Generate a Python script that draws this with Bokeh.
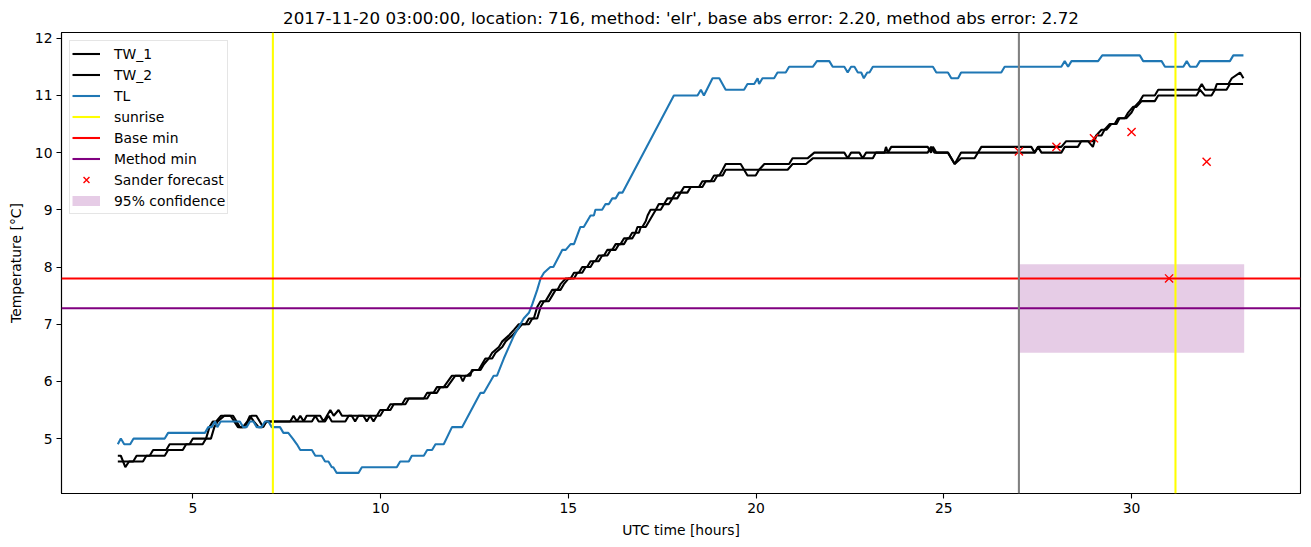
from bokeh.plotting import figure
from bokeh.models import Range1d, Span, Legend, LegendItem, FixedTicker
from bokeh.embed import file_html
from bokeh.resources import INLINE

TITLE = "2017-11-20 03:00:00, location: 716, method: 'elr', base abs error: 2.20, method abs error: 2.72"

tw1_t = [3.00, 3.08, 3.20, 3.30, 3.41, 3.50, 3.85, 3.94, 4.29, 4.38, 4.91, 5.00, 5.35, 5.44, 5.53, 5.62, 5.75,
         6.07, 6.25, 6.40, 6.56, 6.69, 6.87, 6.96, 7.59, 7.68, 7.77, 7.86, 7.95, 8.03, 8.39, 8.48, 8.57, 8.66,
         8.75, 8.88, 8.97, 9.54, 9.63, 9.72, 9.90, 9.99, 10.17, 10.26, 10.57, 10.66, 11.15, 11.24, 11.41, 11.50,
         11.68, 11.90, 12.12, 12.19, 12.26, 12.39, 12.43, 12.61, 12.70, 12.79, 12.88, 12.97, 13.15, 13.24, 13.41,
         13.55, 13.68, 13.86, 13.95, 14.08, 14.17, 14.26, 14.39, 14.48, 14.57, 14.71, 14.79, 14.93, 15.06, 15.15,
         15.28, 15.37, 15.50, 15.59, 15.72, 15.81, 15.95, 16.04, 16.17, 16.26, 16.39, 16.48, 16.61, 16.70, 16.79,
         16.84, 16.97, 17.06, 17.11, 17.19, 17.33, 17.41, 17.55, 17.64, 17.77, 17.86, 17.99, 18.08, 18.48, 18.57,
         18.79, 18.88, 19.02, 19.11, 19.19, 19.59, 19.68, 19.77, 19.99, 20.08, 20.22, 20.88, 20.97, 21.37, 21.55,
         22.35, 22.44, 22.53, 22.75, 22.84, 22.93, 23.42, 23.46, 23.51, 23.60, 24.57, 24.66, 24.71, 24.80, 25.11,
         25.29, 25.46, 25.82, 26.00, 27.33, 27.42, 27.51, 28.13, 28.26, 28.84, 28.97, 29.06, 29.20, 29.28, 29.42,
         29.55, 29.64, 29.77, 29.86, 30.00, 30.08, 30.22, 30.31, 30.62, 30.71, 31.78, 31.87, 31.96, 32.22, 32.27,
         32.58, 32.67, 32.89, 32.98]
tw1_v = [4.7, 4.7, 4.5, 4.6, 4.6, 4.7, 4.7, 4.8, 4.8, 4.9, 4.9, 5.0, 5.0, 5.2, 5.3, 5.3, 5.4,
         5.4, 5.2, 5.2, 5.4, 5.4, 5.2, 5.3, 5.3, 5.4, 5.3, 5.4, 5.3, 5.4, 5.4, 5.3, 5.4, 5.5,
         5.4, 5.5, 5.4, 5.4, 5.3, 5.4, 5.4, 5.5, 5.5, 5.6, 5.6, 5.7, 5.7, 5.8, 5.8, 5.9,
         5.9, 6.1, 6.1, 6.0, 6.1, 6.1, 6.2, 6.2, 6.3, 6.4, 6.4, 6.5, 6.6, 6.7, 6.8,
         6.9, 7.0, 7.0, 7.1, 7.1, 7.3, 7.4, 7.4, 7.5, 7.6, 7.6, 7.7, 7.8, 7.8, 7.9,
         7.9, 8.0, 8.0, 8.1, 8.1, 8.2, 8.2, 8.3, 8.3, 8.4, 8.4, 8.5, 8.5, 8.6, 8.6,
         8.7, 8.7, 8.8, 8.9, 9.0, 9.0, 9.1, 9.1, 9.2, 9.2, 9.3, 9.3, 9.4, 9.4, 9.5,
         9.5, 9.6, 9.6, 9.7, 9.8, 9.8, 9.7, 9.6, 9.6, 9.7, 9.8, 9.8, 9.9, 9.9, 10.0,
         10.0, 9.9, 10.0, 10.0, 9.9, 10.0, 10.0, 10.1, 10.0, 10.1, 10.1, 10.0, 10.1, 10.0, 10.0,
         9.8, 9.9, 9.9, 10.1, 10.1, 10.0, 10.1, 10.1, 10.2, 10.2, 10.1, 10.3, 10.3, 10.4, 10.5,
         10.5, 10.6, 10.6, 10.6, 10.7, 10.8, 10.9, 11.0, 11.0, 11.1, 11.1, 11.2, 11.1, 11.1, 11.2,
         11.2, 11.3, 11.4, 11.3]

tw2_t = [3.00, 3.17, 3.67, 3.76, 4.25, 4.34, 4.73, 4.82, 5.26, 5.35, 5.48, 5.57, 5.66, 5.84, 6.00, 6.10,
         6.20, 6.33, 6.45, 6.52, 6.62, 6.75, 6.85, 6.96, 8.17, 8.26, 8.35, 8.52, 8.61, 8.70, 9.06, 9.15, 9.23,
         9.32, 9.41, 9.72, 9.81, 9.90, 9.99, 10.08, 10.26, 10.35, 10.66, 10.75, 11.24, 11.33, 11.50, 11.59,
         11.77, 11.99, 12.30, 12.48, 12.66, 12.75, 12.88, 12.97, 13.06, 13.24, 13.33, 13.50, 13.64, 13.77, 13.95,
         14.04, 14.17, 14.26, 14.35, 14.48, 14.57, 14.66, 14.79, 14.88, 15.01, 15.15, 15.24, 15.37, 15.46,
         15.59, 15.68, 15.81, 15.90, 16.04, 16.13, 16.26, 16.35, 16.48, 16.57, 16.70, 16.79, 16.88, 16.93,
         17.06, 17.15, 17.24, 17.33, 17.46, 17.55, 17.68, 17.77, 17.90, 17.99, 18.17, 18.26, 18.57, 18.66,
         18.88, 18.97, 19.11, 19.19, 20.84, 20.97, 21.33, 21.51, 23.11, 23.19, 24.57, 24.66, 24.75, 25.11,
         25.29, 25.46, 27.42, 27.51, 27.60, 28.13, 28.22, 28.57, 28.66, 28.97, 29.06, 29.20, 29.33, 29.46,
         29.60, 29.68, 29.82, 29.91, 30.04, 30.13, 30.27, 30.62, 30.71, 31.73, 31.82, 31.95, 32.13, 32.22,
         32.53, 32.62, 32.97]
tw2_v = [4.6, 4.6, 4.6, 4.7, 4.7, 4.8, 4.8, 4.9, 4.9, 5.0, 5.0, 5.2, 5.3, 5.4, 5.4, 5.3,
         5.2, 5.2, 5.3, 5.4, 5.3, 5.2, 5.2, 5.3, 5.3, 5.4, 5.3, 5.3, 5.4, 5.3, 5.3, 5.4, 5.4,
         5.3, 5.4, 5.4, 5.3, 5.4, 5.4, 5.5, 5.5, 5.6, 5.6, 5.7, 5.7, 5.8, 5.8, 5.9,
         5.9, 6.1, 6.1, 6.2, 6.2, 6.3, 6.4, 6.4, 6.5, 6.6, 6.7, 6.8, 6.9, 7.0, 7.0,
         7.1, 7.1, 7.3, 7.4, 7.4, 7.5, 7.6, 7.6, 7.7, 7.8, 7.8, 7.9, 7.9, 8.0,
         8.0, 8.1, 8.1, 8.2, 8.2, 8.3, 8.3, 8.4, 8.4, 8.5, 8.5, 8.6, 8.6, 8.7,
         8.7, 8.8, 8.9, 9.0, 9.0, 9.1, 9.1, 9.2, 9.2, 9.3, 9.3, 9.4, 9.4, 9.5,
         9.5, 9.6, 9.6, 9.7, 9.7, 9.8, 9.8, 9.9, 9.9, 10.0, 10.0, 10.1, 10.0, 10.0,
         9.8, 10.0, 10.0, 10.1, 10.0, 10.0, 10.1, 10.1, 10.2, 10.2, 10.3, 10.4, 10.4, 10.5,
         10.5, 10.6, 10.6, 10.7, 10.8, 10.8, 10.9, 10.9, 11.0, 11.0, 11.1, 11.0, 11.0, 11.1,
         11.1, 11.2, 11.2]

tl_t = [3.00, 3.08, 3.17, 3.33, 3.42, 4.25, 4.34, 5.32, 5.41, 5.50, 5.59, 5.65, 5.74, 6.25, 6.34, 6.43,
        6.52, 6.61, 6.70, 6.83, 6.92, 7.01, 7.10, 7.32, 7.41, 7.54, 7.66, 7.77, 7.86, 8.17, 8.26, 8.43, 8.52,
        8.61, 8.70, 8.74, 8.83, 9.41, 9.50, 10.43, 10.52, 10.75, 10.83, 11.15, 11.24, 11.37, 11.46, 11.68,
        11.90, 12.17, 12.66, 12.75, 13.01, 13.10, 13.28, 13.55, 13.81, 13.95, 14.04, 14.17, 14.26, 14.35,
        14.52, 14.60, 14.84, 14.93, 15.06, 15.15, 15.32, 15.41, 15.59, 15.68, 15.72, 15.90, 15.99, 16.08,
        16.17, 16.26, 16.35, 16.44, 17.81, 18.44, 18.53, 18.61, 18.84, 19.02, 19.19, 19.68, 19.77, 19.95,
        20.04, 20.08, 20.17, 20.48, 20.57, 20.79, 20.88, 21.51, 21.62, 21.95, 22.04, 22.35, 22.44, 22.53,
        22.62, 22.71, 22.80, 22.87, 22.96, 23.02, 23.11, 24.71, 24.80, 25.11, 25.20, 25.38, 25.46, 26.53,
        26.62, 28.13, 28.22, 28.31, 28.40, 29.11, 29.22, 30.22, 30.31, 30.80, 30.89, 31.38, 31.47, 31.56,
        31.73, 31.82, 32.62, 32.71, 32.98]
tl_v = [4.9, 5.0, 4.9, 4.9, 5.0, 5.0, 5.1, 5.1, 5.2, 5.2, 5.3, 5.2, 5.3, 5.3, 5.2, 5.2,
        5.3, 5.3, 5.2, 5.2, 5.3, 5.3, 5.2, 5.2, 5.1, 5.1, 5.0, 4.9, 4.8, 4.8, 4.7, 4.7, 4.6,
        4.6, 4.5, 4.5, 4.4, 4.4, 4.5, 4.5, 4.6, 4.6, 4.7, 4.7, 4.8, 4.8, 4.9, 4.9,
        5.2, 5.2, 5.8, 5.8, 6.1, 6.1, 6.4, 6.8, 7.1, 7.2, 7.35, 7.6, 7.8, 7.9,
        8.0, 8.0, 8.3, 8.3, 8.4, 8.4, 8.7, 8.7, 8.9, 8.9, 9.0, 9.0, 9.1, 9.1,
        9.2, 9.2, 9.3, 9.3, 11.0, 11.0, 11.1, 11.0, 11.3, 11.3, 11.1, 11.1, 11.2, 11.2,
        11.3, 11.2, 11.3, 11.3, 11.4, 11.4, 11.5, 11.5, 11.6, 11.6, 11.5, 11.5, 11.4, 11.5,
        11.5, 11.4, 11.4, 11.3, 11.4, 11.4, 11.5, 11.5, 11.4, 11.4, 11.3, 11.3, 11.4, 11.4,
        11.5, 11.5, 11.6, 11.5, 11.6, 11.6, 11.7, 11.7, 11.6, 11.6, 11.5, 11.5, 11.6, 11.5,
        11.5, 11.6, 11.6, 11.7, 11.7]

sunrise_t = [7.13, 31.17]
base_min = 7.80
method_min = 7.28
forecast_start = 27.0

sander_t = [27.0, 28.0, 29.0, 30.0, 31.0, 32.0]
sander_v = [10.02, 10.10, 10.25, 10.36, 7.80, 9.84]

conf_left, conf_right = 27.0, 33.0
conf_low, conf_high = 6.50, 8.05

x_ticks = [5, 10, 15, 20, 25, 30]
y_ticks = [5, 6, 7, 8, 9, 10, 11, 12]

FONT = "DejaVu Sans"
LW = 2.08
NAN = float("nan")

p = figure(width=1311, height=547, output_backend="svg", toolbar_location=None,
           x_range=Range1d(1.5, 34.5), y_range=Range1d(4.04, 12.1),
           min_border_left=61, min_border_right=11, min_border_top=30, min_border_bottom=54,
           title=TITLE)
p.title.text_font = FONT
p.title.text_font_size = "16.7px"
p.title.text_font_style = "normal"
p.title.align = "center"
p.title.text_color = "black"

p.grid.visible = False
p.outline_line_color = "black"
p.outline_line_width = 1.1
p.background_fill_color = "white"
p.border_fill_color = "white"

for ax in (p.xaxis[0], p.yaxis[0]):
    ax.major_label_text_font = FONT
    ax.major_label_text_font_size = "13.9px"
    ax.major_label_text_color = "black"
    ax.axis_label_text_font = FONT
    ax.axis_label_text_font_size = "13.9px"
    ax.axis_label_text_font_style = "normal"
    ax.axis_label_text_color = "black"
    ax.major_tick_out = 5
    ax.major_tick_in = 0
    ax.minor_tick_out = 0
    ax.minor_tick_in = 0
    ax.major_label_standoff = 4
    ax.axis_line_color = "black"
    ax.axis_line_width = 1.1
    ax.major_tick_line_color = "black"
    ax.major_tick_line_width = 1.1

p.xaxis.ticker = FixedTicker(ticks=x_ticks)
p.yaxis.ticker = FixedTicker(ticks=y_ticks)
p.xaxis.axis_label = "UTC time [hours]"
p.yaxis.axis_label = "Temperature [°C]"
p.xaxis.axis_label_standoff = 6
p.yaxis.axis_label_standoff = 8

band = p.quad(left=[conf_left], right=[conf_right], bottom=[conf_low], top=[conf_high],
              fill_color="purple", fill_alpha=0.2, line_color=None)

r_tw1 = p.line(tw1_t, tw1_v, line_color="black", line_width=LW)
r_tw2 = p.line(tw2_t, tw2_v, line_color="black", line_width=LW)
r_tl = p.line(tl_t, tl_v, line_color="#1f77b4", line_width=LW)

for s in sunrise_t:
    p.add_layout(Span(location=s, dimension="height", line_color="yellow", line_width=LW))
p.add_layout(Span(location=base_min, dimension="width", line_color="red", line_width=LW))
p.add_layout(Span(location=method_min, dimension="width", line_color="purple", line_width=LW))
p.add_layout(Span(location=forecast_start, dimension="height", line_color="gray", line_width=LW))

r_sander = p.scatter(sander_t, sander_v, marker="x", size=11.5, line_color="red", line_width=1.4)

# legend-only renderers (nothing visible in the plot area)
l_sun = p.line([NAN], [NAN], line_color="yellow", line_width=LW)
l_base = p.line([NAN], [NAN], line_color="red", line_width=LW)
l_meth = p.line([NAN], [NAN], line_color="purple", line_width=LW)
l_conf = p.line([NAN], [NAN], line_color="purple", line_alpha=0.2, line_width=10)

legend = Legend(items=[
    LegendItem(label="TW_1", renderers=[r_tw1]),
    LegendItem(label="TW_2", renderers=[r_tw2]),
    LegendItem(label="TL", renderers=[r_tl]),
    LegendItem(label="sunrise", renderers=[l_sun]),
    LegendItem(label="Base min", renderers=[l_base]),
    LegendItem(label="Method min", renderers=[l_meth]),
    LegendItem(label="Sander forecast", renderers=[r_sander]),
    LegendItem(label="95% confidence", renderers=[l_conf]),
])
legend.location = "top_left"
legend.margin = 8
legend.padding = 2
legend.spacing = 0
legend.glyph_width = 28
legend.glyph_height = 21
legend.label_height = 21
legend.label_standoff = 14
legend.label_text_font = FONT
legend.label_text_font_size = "13.9px"
legend.label_text_color = "black"
legend.border_line_color = "#cccccc"
legend.border_line_width = 1
legend.background_fill_alpha = 0.8
p.add_layout(legend)

open("out.html", "w").write(file_html(p, INLINE))
